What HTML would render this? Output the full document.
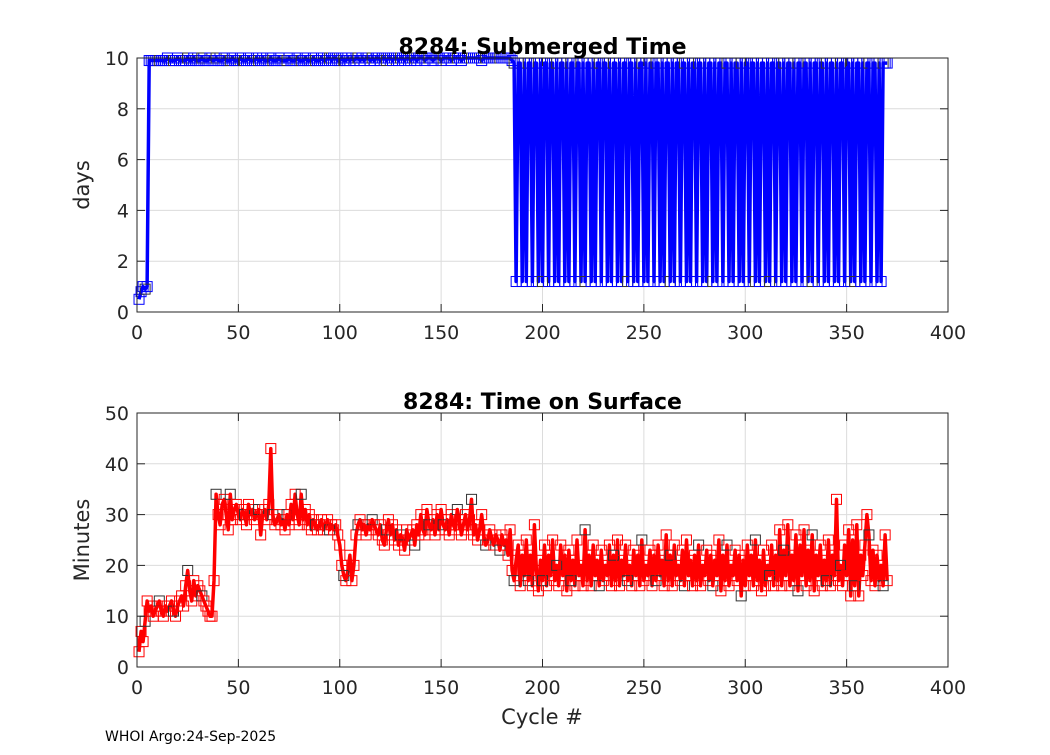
<!DOCTYPE html>
<html><head><meta charset="utf-8"><style>
body{margin:0;background:#fff;}
svg text{font-family:"DejaVu Sans","Liberation Sans",sans-serif;}
</style></head><body>
<svg id="chart" width="1050" height="750" viewBox="0 0 1050 750"></svg>
<script>
const cycles=[];for(let i=1;i<=370;i++)cycles.push(i);
const xTicks=[0,50,100,150,200,250,300,350,400];
const topYTicks=[0,2,4,6,8,10];
const botYTicks=[0,10,20,30,40,50];
const submergedDays=[
0.5,0.8,1.0,0.9,1.0,
9.9,9.9,9.9,9.9,9.9,9.9,9.9,9.9,9.9,10.0,9.9,9.9,9.9,9.9,10.0,9.9,9.9,9.9,9.9,10.0,
9.9,9.9,10.0,9.9,9.9,9.9,10.0,9.9,9.9,9.9,10.0,9.9,9.9,10.0,9.9,9.9,9.9,10.0,9.9,9.9,
9.9,10.0,9.9,9.9,9.9,10.0,9.9,9.9,9.9,10.0,9.9,9.9,9.9,10.0,9.9,9.9,10.0,9.9,9.9,9.9,
10.0,9.9,9.9,9.9,10.0,9.9,9.9,9.9,9.9,10.0,9.9,9.9,9.9,10.0,9.9,9.9,9.9,10.0,9.9,9.9,
9.9,10.0,9.9,9.9,9.9,10.0,9.9,9.9,10.0,10.0,9.9,10.0,10.0,9.9,9.9,10.0,9.9,9.9,10.0,9.9,
10.0,9.9,10.0,10.0,9.9,10.0,9.9,10.0,10.0,9.9,10.0,9.9,10.0,10.0,9.9,10.0,10.0,9.9,10.0,10.0,
9.9,10.0,10.0,9.9,10.0,10.0,9.9,10.0,10.0,9.9,10.0,10.0,9.9,10.0,10.0,10.0,9.9,10.0,10.0,10.0,
9.9,10.0,10.0,10.0,9.9,10.0,10.0,10.0,10.0,9.9,10.0,10.0,10.0,10.0,9.9,10.0,10.0,10.0,10.0,10.0,
10.0,10.0,10.0,10.0,9.9,10.0,10.0,10.0,10.0,10.0,
10.0,10.0,10.0,10.0,10.0,10.0,10.0,10.0,10.0,9.9,9.8,
1.2,9.8,9.8,1.2,9.8,1.2,9.8,9.8,1.2,9.8,9.8,1.2,9.8,1.2,9.8,9.8,1.2,9.8,9.8,1.2,
9.8,1.2,9.8,9.8,1.2,9.8,1.2,9.8,9.8,1.2,9.8,9.8,1.2,9.8,1.2,9.8,9.8,1.2,9.8,1.2,
9.8,9.8,1.2,9.8,9.8,1.2,9.8,1.2,9.8,9.8,1.2,9.8,1.2,9.8,9.8,1.2,9.8,9.8,1.2,9.8,
1.2,9.8,9.8,1.2,9.8,1.2,9.8,9.8,1.2,9.8,9.8,1.2,9.8,1.2,9.8,9.8,1.2,9.8,1.2,9.8,
9.8,1.2,9.8,9.8,1.2,9.8,1.2,9.8,9.8,1.2,9.8,9.8,1.2,9.8,1.2,9.8,9.8,1.2,9.8,1.2,
9.8,9.8,1.2,9.8,9.8,1.2,9.8,1.2,9.8,9.8,1.2,9.8,1.2,9.8,9.8,1.2,9.8,9.8,1.2,9.8,
1.2,9.8,9.8,1.2,9.8,1.2,9.8,9.8,1.2,9.8,9.8,1.2,9.8,1.2,9.8,9.8,1.2,9.8,1.2,9.8,
9.8,1.2,9.8,9.8,1.2,9.8,1.2,9.8,9.8,1.2,9.8,9.8,1.2,9.8,1.2,9.8,9.8,1.2,9.8,1.2,
9.8,9.8,1.2,9.8,9.8,1.2,9.8,1.2,9.8,9.8,1.2,9.8,1.2,9.8,9.8,1.2,9.8,9.8,1.2,9.8,
1.2,9.8,9.8,9.8];
const surfaceMinutes=[
3,7,5,9,13,11,12,10,11,12, 13,11,10,12,11,12,13,11,10,12,
13,14,12,16,19,15,13,17,14,16, 15,14,13,12,11,10,10,17,34,30,
28,32,33,30,27,34,29,31,32,30, 29,31,30,28,32,30,31,29,30,31,
26,30,31,29,32,43,30,28,29,30, 28,29,27,30,28,32,29,34,30,28,
34,29,31,28,30,27,29,28,27,28, 29,27,28,29,27,28,27,28,26,24,
20,18,17,19,22,17,20,26,28,29, 27,28,26,28,27,29,28,27,26,28,
25,24,27,29,26,28,25,27,24,26, 25,23,27,25,26,27,24,28,26,30,
27,26,31,28,27,29,26,30,27,31, 28,27,29,26,30,28,27,31,29,26,
28,30,27,29,33,26,28,25,27,30, 26,24,25,27,25,24,26,25,23,26,
24,25,22,27,19,17,21,24,16,22, 18,25,17,22,16,28,19,15,21,17,
24,16,22,18,25,17,20,16,24,18, 22,15,23,17,21,16,25,18,20,16,
27,17,22,16,24,18,21,16,23,17, 20,18,24,16,22,17,25,16,21,18,
24,17,20,16,23,18,22,16,25,17, 20,18,23,16,22,17,24,18,21,16,
26,17,22,16,24,18,20,17,23,16, 25,18,21,16,22,17,24,16,20,18,
23,17,22,16,21,18,25,15,22,17, 24,16,20,18,23,17,22,14,21,16,
24,18,22,16,25,17,21,15,23,16, 20,18,24,16,22,17,27,16,23,18,
28,16,22,17,26,15,24,18,27,16, 23,17,26,15,22,18,24,16,21,17,
25,16,22,18,33,17,20,16,24,18,
27,14,25,16,28,14,22,18,24,30, 26,17,23,16,22,17,20,16,26,17];
const NS='http://www.w3.org/2000/svg';
const svg=document.getElementById('chart');
function mk(tag,attrs,parent){const e=document.createElementNS(NS,tag);for(const k in attrs)e.setAttribute(k,attrs[k]);(parent||svg).appendChild(e);return e;}
function drawAxes(cfg){
 const L=137,R=948,T=cfg.top,B=cfg.bottom;
 const sx=v=>L+(v-0)/(400-0)*(R-L);
 const sy=v=>B-(v-cfg.ymin)/(cfg.ymax-cfg.ymin)*(B-T);
 const g=mk('g',{});
 
 
 mk('rect',{x:L,y:T,width:R-L,height:B-T,fill:'#fff'},g);
 xTicks.forEach(t=>{mk('line',{x1:sx(t),x2:sx(t),y1:T,y2:B,stroke:'#dcdcdc','stroke-width':1},g);});
 cfg.yticks.forEach(t=>{mk('line',{x1:L,x2:R,y1:sy(t),y2:sy(t),stroke:'#dcdcdc','stroke-width':1},g);});
 const n=Math.min(cfg.vals.length,cycles.length);
 let d='';for(let i=0;i<n;i++){d+=(i?'L':'M')+sx(cycles[i]).toFixed(1)+' '+sy(cfg.vals[i]).toFixed(1);}
 const p=mk('path',{d:d,fill:'none',stroke:cfg.color,'stroke-width':3.5,'stroke-linejoin':'round'},g);
 
 
 for(let i=0;i<n;i++){const v=cfg.vals[i];const r=mk('rect',{x:sx(cycles[i])-5,y:sy(v)-5,width:10,height:10,fill:'none',stroke:(i%7==3)?'#333':cfg.color,'stroke-width':1},g);
  
  }
 mk('rect',{x:L,y:T,width:R-L,height:B-T,fill:'none',stroke:'#262626','stroke-width':1},g);
 xTicks.forEach(t=>{mk('line',{x1:sx(t),x2:sx(t),y1:B,y2:B-8,stroke:'#262626'},g);mk('line',{x1:sx(t),x2:sx(t),y1:T,y2:T+8,stroke:'#262626'},g);
  const tx=mk('text',{x:sx(t),y:B+27,'text-anchor':'middle','font-size':19,fill:'#262626'},g);tx.textContent=t;
  });
 cfg.yticks.forEach(t=>{mk('line',{x1:L,x2:L+8,y1:sy(t),y2:sy(t),stroke:'#262626'},g);mk('line',{x1:R,x2:R-8,y1:sy(t),y2:sy(t),stroke:'#262626'},g);
  const tx=mk('text',{x:L-8,y:sy(t)+7,'text-anchor':'end','font-size':19,fill:'#262626'},g);tx.textContent=t;
  });
 const ti=mk('text',{x:(L+R)/2,y:T-4,'text-anchor':'middle','font-size':22,'font-weight':'bold',fill:'#000'},g);ti.textContent=cfg.title;
 
 const yl=mk('text',{x:0,y:0,'text-anchor':'middle','font-size':21,fill:'#262626',transform:`translate(89,${(T+B)/2}) rotate(-90)`},g);yl.textContent=cfg.ylabel;
 
}
drawAxes({name:'submerged-time-plot',top:58,bottom:312,ymin:0,ymax:10,yticks:topYTicks,vals:submergedDays,color:'#0000ff',title:'8284: Submerged Time',ylabel:'days'});
drawAxes({name:'surface-time-plot',top:413,bottom:667,ymin:0,ymax:50,yticks:botYTicks,vals:surfaceMinutes,color:'#ff0000',title:'8284: Time on Surface',ylabel:'Minutes'});
const xl=mk('text',{x:542,y:724,'text-anchor':'middle','font-size':21,fill:'#262626'});xl.textContent='Cycle #';


const ft=mk('text',{x:105,y:741,'font-size':14,fill:'#000'});ft.textContent='WHOI Argo:24-Sep-2025';


</script>
</body></html>
